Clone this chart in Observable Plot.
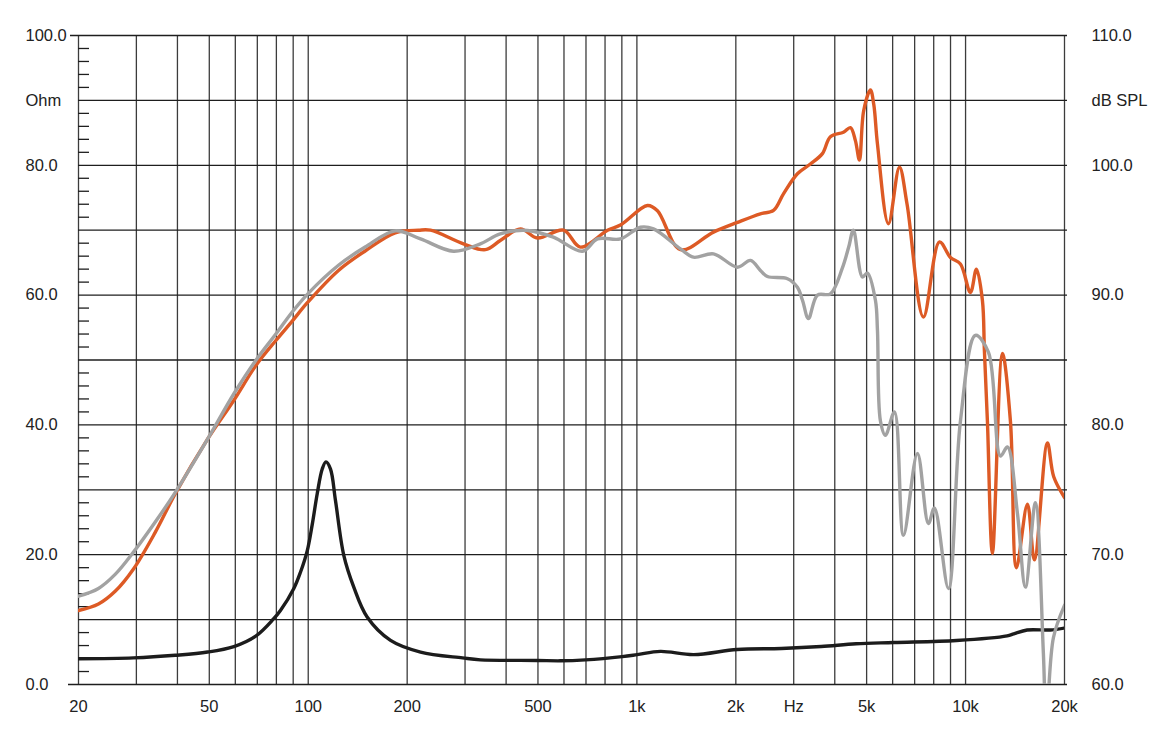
<!DOCTYPE html>
<html><head><meta charset="utf-8">
<script src="https://cdn.jsdelivr.net/npm/d3@7"></script>
<script src="https://cdn.jsdelivr.net/npm/@observablehq/plot@0.6"></script>
<style>html,body{margin:0;padding:0;background:#fff;} svg{display:block;}</style>
</head><body><div id="chart"></div>
<script>
// Impedance (Ohm, left axis)
const impFreq = [20, 29.4, 39.4, 49.4, 59.4, 69.4, 78.4, 82.3, 90.4, 94.7, 99.3, 102.8, 106.5, 110.3, 113.2, 116.9, 121, 128.3, 137.6, 151.1, 178, 219.6, 294.6, 334, 498, 585, 697, 902, 1002, 1179, 1489, 2018, 2752, 3636, 4646, 6044, 9380, 13382, 14015, 15394, 18120, 20000];
const impOhm  = [3.96, 4.1, 4.5, 5.0, 5.85, 7.5, 10.1, 11.4, 14.8, 17.3, 20.6, 24.6, 29.4, 33.2, 34.3, 33.2, 28.4, 19.9, 15.0, 10.4, 6.8, 5.0, 4.1, 3.8, 3.7, 3.65, 3.8, 4.3, 4.6, 5.1, 4.6, 5.4, 5.55, 5.85, 6.27, 6.47, 6.78, 7.5, 7.8, 8.4, 8.4, 8.7];

// On-axis SPL (dB, right axis) - orange
const onFreq = [20, 23, 25.9, 29.4, 34.2, 39.4, 49.4, 59.4, 69.4, 79.7, 89.4, 99.7, 123.6, 149, 183.9, 216.5, 235.5, 296.8, 346, 384, 442, 498, 598, 673, 814, 891, 1077, 1155, 1357, 1710, 2023, 2376, 2604, 2792, 3079, 3372, 3668, 3880, 4250, 4464, 4622, 4754, 4898, 5134, 5256, 5394, 5824, 6292, 6638, 7444, 8328, 8994, 9648, 10344, 10790, 11252, 11412, 11654, 12070, 12948, 13692, 14282, 15426, 16194, 17744, 18546, 20000];
const onDb   = [65.7, 66.2, 67.2, 68.9, 71.7, 74.7, 78.9, 81.9, 84.6, 86.5, 88.0, 89.45, 91.9, 93.4, 94.8, 95.0, 95.0, 93.95, 93.5, 94.2, 95.1, 94.4, 95.0, 93.7, 95.0, 95.4, 96.9, 96.5, 93.5, 94.85, 95.6, 96.26, 96.52, 97.8, 99.35, 100.1, 100.9, 102.2, 102.55, 102.9, 101.9, 100.4, 104.2, 105.8, 104.7, 101.65, 95.5, 99.85, 97.0, 88.3, 94.1, 92.9, 92.4, 90.2, 92.0, 89.6, 85.7, 80.3, 70.1, 85.5, 80.3, 69.0, 73.9, 69.6, 78.6, 76.0, 74.4];

// Off-axis SPL (dB, right axis) - grey
const offFreq = [20, 23, 25.9, 29.4, 34.2, 39.4, 49.4, 59.4, 69.4, 79.7, 89.4, 99.7, 123.6, 149, 183.9, 219.6, 276.6, 334, 384, 465, 557, 683, 759, 891, 1025, 1123, 1357, 1486, 1710, 2023, 2216, 2376, 2496, 2871, 3079, 3190, 3326, 3542, 3880, 4220, 4410, 4558, 4854, 5028, 5318, 5394, 5508, 5704, 6076, 6472, 7138, 7708, 8040, 8870, 9648, 10714, 11736, 12766, 13410, 14380, 15210, 16310, 17250, 17600, 18504, 20000];
const offDb   = [66.8, 67.4, 68.5, 70.2, 72.5, 74.8, 78.9, 82.4, 85.0, 87.0, 88.7, 90.1, 92.3, 93.7, 94.95, 94.33, 93.38, 93.95, 94.72, 94.98, 94.46, 93.38, 94.33, 94.33, 95.23, 95.1, 93.56, 92.92, 93.18, 92.15, 92.67, 91.9, 91.43, 91.26, 90.6, 89.6, 88.2, 90.0, 90.1, 92.1, 93.7, 95.0, 91.4, 91.7, 89.6, 87.3, 80.3, 79.2, 81.0, 71.5, 77.8, 72.4, 73.6, 67.4, 80.3, 86.9, 85.6, 77.6, 78.3, 73.2, 67.5, 74.0, 62.4, 57.0, 63.6, 66.1];

const xTickValues = [20, 50, 100, 200, 500, 1000, 2000, 3000, 5000, 10000, 20000];
const xTickLabels = ["20", "50", "100", "200", "500", "1k", "2k", "Hz", "5k", "10k", "20k"];
const vGrid = [20,30,40,50,60,70,80,90,100,200,300,400,500,600,700,800,900,1000,2000,3000,4000,5000,6000,7000,8000,9000,10000,20000];
const hGrid = [10,20,30,40,50,60,70,80,90];
const ohmTicks = [0, 20, 40, 60, 80, 100];
const dbTicks = [60, 70, 80, 90, 100, 110];
const minorTicks = d3.range(0, 100, 2).filter(d => d % 10 !== 0);

const imp = impFreq.map((f, i) => ({f, v: impOhm[i]}));
const on = onFreq.map((f, i) => ({f, v: onDb[i]}));
const off = offFreq.map((f, i) => ({f, v: offDb[i]}));
const dbToY = db => (db - 60) * 2;

const FONT = 16.5;
const chart = Plot.plot({
  width: 1176,
  height: 744,
  marginLeft: 78,
  marginRight: 112,
  marginTop: 35,
  marginBottom: 60,
  style: {fontFamily: "'Liberation Sans', Arial, Helvetica, sans-serif", fontSize: FONT + "px", color: "#222", background: "#fff"},
  x: {type: "log", domain: [20, 20000], axis: null},
  y: {domain: [0, 100], axis: null},
  marks: [
    Plot.ruleX(vGrid, {x: d => d, stroke: "#3c3c3c", strokeWidth: 1.3}),
    Plot.ruleY(hGrid, {y: d => d, stroke: "#1e1e1e", strokeWidth: 1.3, insetRight: -3}),
    Plot.ruleY([0], {y: d => d, stroke: "#1e1e1e", strokeWidth: 1.4, insetRight: -3, insetLeft: -10}),
    Plot.ruleY([100], {y: d => d, stroke: "#1e1e1e", strokeWidth: 1.4, insetRight: -3, insetLeft: -8}),
    Plot.tickY(minorTicks, {y: d => d, insetRight: 975, stroke: "#1e1e1e", strokeWidth: 1.3}),
    Plot.line(imp, {x: "f", y: "v", stroke: "#1c1c1c", strokeWidth: 3.4, curve: "catmull-rom", clip: true}),
    Plot.line(on, {x: "f", y: d => dbToY(d.v), stroke: "#dd5a25", strokeWidth: 3.4, curve: "catmull-rom", clip: true}),
    Plot.line(off, {x: "f", y: d => dbToY(d.v), stroke: "#a2a2a2", strokeWidth: 3.4, curve: "catmull-rom", clip: true}),
    Plot.text(ohmTicks, {y: d => d, text: d => d.toFixed(1), frameAnchor: "left", dx: -53, textAnchor: "start", fontSize: FONT, fill: "#222"}),
    Plot.text(["Ohm"], {y: 90, text: d => d, frameAnchor: "left", dx: -53, textAnchor: "start", fontSize: FONT, fill: "#222"}),
    Plot.text(dbTicks, {y: d => dbToY(d), text: d => d.toFixed(1), frameAnchor: "right", dx: 27, textAnchor: "start", fontSize: FONT, fill: "#222"}),
    Plot.text(["dB SPL"], {y: dbToY(105), text: d => d, frameAnchor: "right", dx: 27, textAnchor: "start", fontSize: FONT, fill: "#222"}),
    Plot.text(xTickValues, {x: d => d, text: (d, i) => xTickLabels[i], frameAnchor: "bottom", dy: 27, fontSize: FONT, fill: "#222"})
  ]
});
document.getElementById("chart").appendChild(chart);
</script>
</body></html>
